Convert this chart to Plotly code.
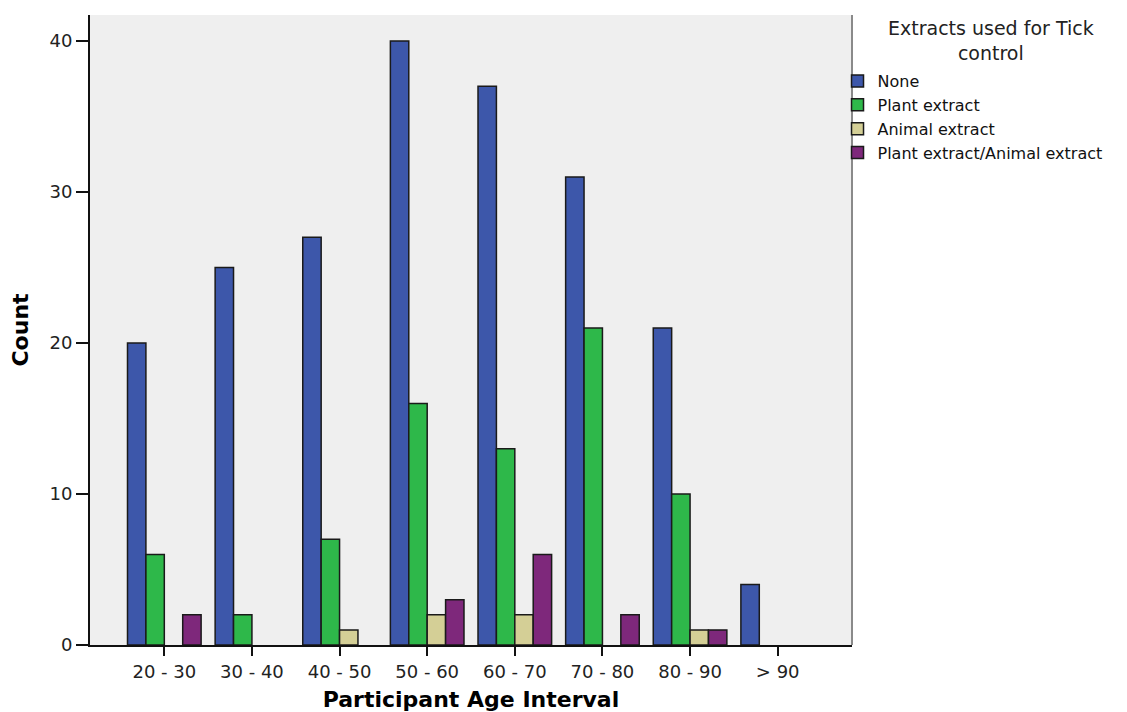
import plotly.graph_objects as go

categories = ["20 - 30", "30 - 40", "40 - 50", "50 - 60", "60 - 70", "70 - 80", "80 - 90", "> 90"]
none_vals = [20, 25, 27, 40, 37, 31, 21, 4]
plant_vals = [6, 2, 7, 16, 13, 21, 10, 0]
animal_vals = [0, 0, 1, 2, 2, 0, 1, 0]
both_vals = [2, 0, 0, 3, 6, 2, 1, 0]
y_ticks = [0, 10, 20, 30, 40]
legend_title = "Extracts used for Tick<br>control"

series = [
    ("None", none_vals, "#3D57AA"),
    ("Plant extract", plant_vals, "#2EB84A"),
    ("Animal extract", animal_vals, "#D4CF96"),
    ("Plant extract/Animal extract", both_vals, "#7E287B"),
]

fig = go.Figure()
for name, vals, color in series:
    # zero-count bars are not drawn (no visible outline on the axis)
    fig.add_trace(go.Bar(
        x=categories, y=[v if v else None for v in vals], name=name,
        marker=dict(color=color, line=dict(color="#1a1a1a", width=1.5)),
    ))

tick_font = dict(family="DejaVu Sans, Verdana, sans-serif", size=18, color="#222")
title_font = dict(family="DejaVu Sans, Verdana, sans-serif", size=22, color="#000", weight="bold")

fig.update_layout(
    # page body has an 8px default margin, so the figure is 8px smaller
    width=1119, height=704,
    margin=dict(l=82, r=275, t=7, b=67, autoexpand=False),
    paper_bgcolor="white",
    plot_bgcolor="#EFEFEF",
    barmode="group",
    bargap=0.16,
    bargroupgap=0,
    showlegend=True,
    legend=dict(
        x=0.981, xanchor="left", y=0.922, yanchor="top",
        bgcolor="rgba(0,0,0,0)",
        font=dict(family="DejaVu Sans, Verdana, sans-serif", size=16, color="#111"),
        tracegroupgap=0,
    ),
    xaxis=dict(
        type="category", range=[-0.848, 7.848], automargin=False,
        showline=True, linecolor="#111", linewidth=2,
        ticks="outside", ticklen=9, tickwidth=2, tickcolor="#111",
        tickfont=tick_font, showgrid=False,
        title=dict(text="Participant Age Interval", font=title_font, standoff=14),
    ),
    yaxis=dict(
        range=[0, 41.72], automargin=False,
        tickvals=y_ticks,
        showline=True, linecolor="#111", linewidth=2,
        ticks="outside", ticklen=12, tickwidth=2, tickcolor="#111",
        tickfont=tick_font, showgrid=False, zeroline=False,
        title=dict(text="Count", font=title_font, standoff=36),
    ),
    annotations=[dict(
        text=legend_title, xref="paper", yref="paper", x=1.182, y=1.0,
        xanchor="center", yanchor="top", showarrow=False, align="center",
        font=dict(family="DejaVu Sans, Verdana, sans-serif", size=19, color="#222"),
    )],
    shapes=[dict(type="line", xref="paper", yref="paper", x0=1, x1=1, y0=0, y1=1,
                 line=dict(color="#8a8a8a", width=2))],
)

fig.write_html("out.html")
